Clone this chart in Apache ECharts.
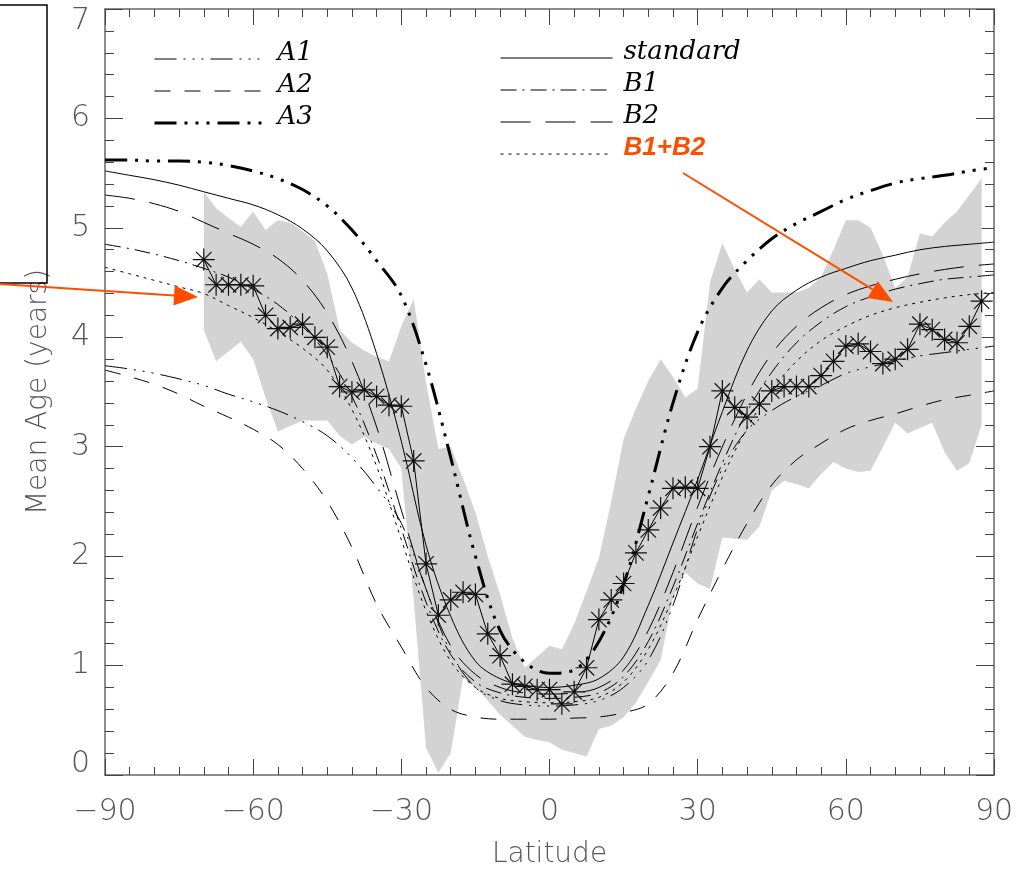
<!DOCTYPE html>
<html>
<head>
<meta charset="utf-8">
<script src="https://cdn.jsdelivr.net/npm/echarts@6/dist/echarts.min.js"></script>
<style>html,body{margin:0;padding:0;background:#fff;}#chart{width:1022px;height:874px;}</style>
</head>
<body>
<div id="chart"></div>
<script>
// ---- model curves (latitude grid) ----
const lat = [-90,-85,-80,-75,-70,-65,-60,-55,-50,-45,-40,-35,-30,-25,-20,-15,-10,-5,0,5,10,15,20,25,30,35,40,45,50,55,60,65,70,75,80,85,90];
const standard = [5.52,5.48,5.44,5.39,5.33,5.27,5.21,5.12,4.99,4.79,4.45,3.85,3.05,2.10,1.45,1.04,0.88,0.82,0.80,0.82,0.88,1.08,1.55,2.12,2.70,3.32,3.88,4.24,4.43,4.55,4.63,4.70,4.75,4.80,4.83,4.85,4.87];
const A3 = [5.62,5.62,5.61,5.61,5.60,5.57,5.52,5.45,5.35,5.20,4.98,4.70,4.38,3.75,2.90,2.00,1.32,1.03,0.93,0.96,1.22,1.74,2.55,3.40,4.05,4.45,4.70,4.90,5.04,5.15,5.26,5.34,5.41,5.45,5.48,5.52,5.55];
const B2 = [5.30,5.27,5.22,5.15,5.05,4.95,4.85,4.72,4.52,4.22,3.78,3.18,2.42,1.70,1.18,0.92,0.80,0.75,0.74,0.75,0.80,0.96,1.32,1.85,2.45,3.00,3.48,3.85,4.10,4.27,4.39,4.47,4.53,4.58,4.62,4.65,4.67];
const B1 = [4.85,4.81,4.76,4.70,4.63,4.55,4.44,4.30,4.10,3.84,3.46,2.92,2.25,1.58,1.10,0.85,0.75,0.71,0.70,0.71,0.75,0.90,1.22,1.72,2.30,2.85,3.32,3.68,3.95,4.14,4.28,4.37,4.44,4.49,4.53,4.55,4.57];
const B1B2 = [4.64,4.58,4.52,4.46,4.40,4.29,4.18,4.05,3.90,3.70,3.34,2.82,2.15,1.50,1.04,0.80,0.70,0.67,0.66,0.67,0.71,0.85,1.15,1.62,2.18,2.72,3.17,3.52,3.78,3.97,4.10,4.20,4.27,4.32,4.36,4.39,4.41];
const A1 = [3.74,3.71,3.67,3.62,3.56,3.48,3.41,3.33,3.23,3.10,2.90,2.63,2.30,1.70,1.12,0.80,0.68,0.64,0.63,0.64,0.68,0.80,1.05,1.55,2.25,2.80,3.15,3.33,3.46,3.56,3.67,3.73,3.78,3.83,3.86,3.89,3.92];
const A2 = [3.70,3.64,3.57,3.48,3.37,3.27,3.16,3.02,2.80,2.50,2.08,1.56,1.17,0.80,0.60,0.53,0.51,0.51,0.51,0.52,0.53,0.57,0.65,0.93,1.42,1.88,2.30,2.65,2.88,3.03,3.16,3.24,3.30,3.37,3.43,3.47,3.51];

// ---- observations (asterisks) and their range (grey band) ----
const obsLat = [-70,-67.5,-65,-62.5,-60,-57.5,-55,-52.5,-50,-47.5,-45,-42.5,-40,-37.5,-35,-32.5,-30,-27.5,-25,-22.5,-20,-17.5,-15,-12.5,-10,-7.5,-5,-2.5,0,2.5,5,7.5,10,12.5,15,17.5,20,22.5,25,27.5,30,32.5,35,37.5,40,42.5,45,47.5,50,52.5,55,57.5,60,62.5,65,67.5,70,72.5,75,77.5,80,82.5,85,87.5];
const obsAge = [4.71,4.48,4.48,4.48,4.47,4.20,4.08,4.09,4.12,4.00,3.91,3.55,3.50,3.52,3.46,3.38,3.37,2.87,1.93,1.46,1.60,1.67,1.65,1.29,1.09,0.83,0.81,0.78,0.78,0.65,0.76,0.98,1.42,1.60,1.75,2.03,2.24,2.44,2.62,2.63,2.62,3.00,3.51,3.36,3.27,3.39,3.51,3.55,3.55,3.55,3.65,3.78,3.92,3.94,3.87,3.76,3.80,3.89,4.12,4.07,3.98,3.95,4.10,4.33];
const bandHigh = [5.33,5.18,5.09,5.01,5.15,4.98,5.07,5.05,4.97,4.88,4.58,4.07,3.95,3.88,3.82,3.78,4.10,4.35,3.59,2.98,3.00,2.71,2.40,2.00,1.65,1.25,0.98,1.08,1.18,1.15,1.38,1.68,1.98,2.50,3.07,3.35,3.60,3.80,3.64,3.45,3.53,4.50,4.86,4.62,4.41,4.53,4.41,4.41,4.41,4.45,4.55,4.80,5.07,5.07,5.00,4.75,4.45,4.55,4.95,4.92,5.05,5.15,5.30,5.45];
const bandLow = [4.07,3.78,3.87,3.96,3.80,3.45,3.14,3.19,3.24,3.24,3.24,3.10,3.02,3.09,3.03,2.98,2.80,1.60,0.25,0.02,0.20,0.89,0.80,0.68,0.55,0.45,0.35,0.32,0.30,0.23,0.20,0.17,0.42,0.45,0.53,0.66,0.85,1.05,1.62,1.85,1.75,1.70,2.17,2.16,2.15,2.27,2.60,2.69,2.66,2.62,2.75,2.86,2.80,2.77,2.78,3.00,3.22,3.12,3.17,3.22,2.95,2.78,2.85,3.20];

// ---- axis ticks ----
const xTicks = [-90,-60,-30,0,30,60,90];
const yTicks = [0,1,2,3,4,5,6,7];

const ORANGE = '#ff4d00';
const AXIS = '#666';
const LABEL_FONT = {fontFamily: 'DejaVu Sans', fontWeight: 200, fontSize: 30, color: '#555'};

function pairs(xs, ys) { return xs.map((x, i) => [x, ys[i]]); }

const chart = echarts.init(document.getElementById('chart'), null, {renderer: 'canvas'});

function modelSeries(name, data, dash, width) {
  return {
    name: name, type: 'line', data: pairs(lat, data), symbol: 'none', smooth: 0.35,
    lineStyle: {color: '#000', width: width, type: dash}, itemStyle: {color: '#000'}, z: 3, silent: true
  };
}

function arrow(x1, y1, x2, y2, head, halfW) {
  const a = Math.atan2(y2 - y1, x2 - x1);
  const bx = x2 - head * Math.cos(a), by = y2 - head * Math.sin(a);
  const px = -Math.sin(a) * halfW, py = Math.cos(a) * halfW;
  return [
    {type: 'line', shape: {x1: x1, y1: y1, x2: bx, y2: by}, style: {stroke: ORANGE, lineWidth: 2}, z: 100},
    {type: 'polygon', shape: {points: [[x2, y2], [bx + px, by + py], [bx - px, by - py]]}, style: {fill: ORANGE}, z: 100}
  ];
}

// grey band: one polygon through the band's upper values, back along the lower values
function renderBand(params, api) {
  if (params.dataIndex !== 0) return null;
  const pts = [];
  for (let i = 0; i < obsLat.length; i++) pts.push(api.coord([obsLat[i], bandHigh[i]]));
  for (let i = obsLat.length - 1; i >= 0; i--) pts.push(api.coord([obsLat[i], bandLow[i]]));
  return {type: 'polygon', shape: {points: pts}, style: {fill: '#d3d3d3', stroke: null}};
}

const legendRich = {
  n: {fontFamily: 'DejaVu Serif', fontStyle: 'italic', fontSize: 26, color: '#000', lineHeight: 20, height: 20, padding: [0, 0, 12, 6]},
  o: {fontFamily: 'Liberation Sans', fontStyle: 'italic', fontWeight: 'bold', fontSize: 26, color: ORANGE, lineHeight: 20, height: 20, padding: [0, 0, 12, 6]}
};
const legendFormatter = name => (name === 'B1+B2' ? '{o|' : '{n|') + name + '}';
const noIcon = {color: 'rgba(0,0,0,0)', borderWidth: 0, opacity: 0};
const legendTextStyle = {fontSize: 20, lineHeight: 20, rich: legendRich};

const option = {
  animation: false,
  backgroundColor: '#fff',
  grid: {left: 105, right: 28, top: 9, bottom: 96, containLabel: false},
  legend: [
    {
      orient: 'vertical', left: 153, top: 40, padding: 0, itemWidth: 112, itemHeight: 20, itemGap: -3,
      selectedMode: false, formatter: legendFormatter, textStyle: legendTextStyle, itemStyle: noIcon,
      data: [{name: 'A1', lineStyle: {width: 1}}, {name: 'A2', lineStyle: {width: 1}}, {name: 'A3', lineStyle: {width: 3}}]
    },
    {
      orient: 'vertical', left: 500, top: 39, padding: 0, itemWidth: 112, itemHeight: 20, itemGap: -3,
      selectedMode: false, formatter: legendFormatter, textStyle: legendTextStyle, itemStyle: noIcon,
      data: [
        {name: 'standard', lineStyle: {width: 1}},
        {name: 'B1', lineStyle: {width: 1}},
        {name: 'B2', lineStyle: {width: 1}},
        {name: 'B1+B2', lineStyle: {width: 1}}
      ]
    }
  ],
  xAxis: [
    {
      type: 'value', min: xTicks[0], max: xTicks[xTicks.length - 1], interval: 30, position: 'bottom',
      name: 'Latitude', nameLocation: 'middle', nameGap: 66,
      nameTextStyle: {fontFamily: 'DejaVu Sans', fontWeight: 200, fontSize: 28, color: '#555'},
      axisLine: {show: true, onZero: false, lineStyle: {color: AXIS, width: 1.5}},
      axisTick: {show: true, inside: true, length: 16, lineStyle: {color: '#444', width: 1}},
      minorTick: {show: true, splitNumber: 6, length: 8, lineStyle: {color: '#444', width: 1}},
      splitLine: {show: false},
      axisLabel: Object.assign({margin: 22, formatter: v => String(v).replace('-', '\u2212')}, LABEL_FONT)
    },
    {
      type: 'value', min: xTicks[0], max: xTicks[xTicks.length - 1], interval: 30, position: 'top',
      axisLine: {show: true, onZero: false, lineStyle: {color: AXIS, width: 1.5}},
      axisTick: {show: true, inside: true, length: 16, lineStyle: {color: '#444', width: 1}},
      minorTick: {show: true, splitNumber: 6, length: 8, lineStyle: {color: '#444', width: 1}},
      splitLine: {show: false}, axisLabel: {show: false}
    }
  ],
  yAxis: [
    {
      type: 'value', min: yTicks[0], max: yTicks[yTicks.length - 1], interval: 1, position: 'left',
      name: 'Mean Age (years)', nameLocation: 'middle', nameGap: 52,
      nameTextStyle: {fontFamily: 'DejaVu Sans', fontWeight: 200, fontSize: 28, color: '#555'},
      axisLine: {show: true, onZero: false, lineStyle: {color: AXIS, width: 1.5}},
      axisTick: {show: true, inside: true, length: 18, lineStyle: {color: '#444', width: 1}},
      minorTick: {show: true, splitNumber: 5, length: 9, lineStyle: {color: '#444', width: 1}},
      splitLine: {show: false},
      axisLabel: Object.assign({
        margin: 15,
        formatter: v => v === yTicks[yTicks.length - 1] ? '{t|' + v + '}' : (v === yTicks[0] ? '{b|' + v + '}' : String(v)),
        rich: {
          t: Object.assign({padding: [24, 0, 0, 0]}, LABEL_FONT),
          b: Object.assign({padding: [0, 0, 22, 0]}, LABEL_FONT)
        }
      }, LABEL_FONT)
    },
    {
      type: 'value', min: yTicks[0], max: yTicks[yTicks.length - 1], interval: 1, position: 'right',
      axisLine: {show: true, onZero: false, lineStyle: {color: AXIS, width: 1.5}},
      axisTick: {show: true, inside: true, length: 18, lineStyle: {color: '#444', width: 1}},
      minorTick: {show: true, splitNumber: 5, length: 9, lineStyle: {color: '#444', width: 1}},
      splitLine: {show: false}, axisLabel: {show: false}
    }
  ],
  series: [
    {
      name: 'range', type: 'custom', renderItem: renderBand,
      data: obsLat.map((x, i) => [x, bandLow[i], bandHigh[i]]),
      encode: {x: 0, y: [1, 2]}, z: 1, silent: true, clip: true
    },
    modelSeries('A1', A1, [22, 7, 2, 7, 2, 7, 2, 7], 1),
    modelSeries('A2', A2, [16, 14], 1),
    modelSeries('A3', A3, [22, 8, 3, 8, 3, 8, 3, 8], 3),
    modelSeries('standard', standard, 'solid', 1),
    modelSeries('B1', B1, [16, 6, 2, 6], 1),
    modelSeries('B2', B2, [30, 15], 1),
    modelSeries('B1+B2', B1B2, [3, 5], 1),
    {
      name: 'observations', type: 'line', data: pairs(obsLat, obsAge),
      symbol: 'path://M5,0L5,10M0,5L10,5M1.5,1.5L8.5,8.5M1.5,8.5L8.5,1.5', symbolSize: 22, showAllSymbol: true,
      lineStyle: {color: '#000', width: 1},
      itemStyle: {color: 'rgba(0,0,0,0)', borderColor: '#111', borderWidth: 1.2},
      z: 5, silent: true
    }
  ],
  graphic: [
    {type: 'rect', shape: {x: -5, y: 5, width: 52, height: 278}, style: {fill: 'none', stroke: '#000', lineWidth: 1.5}, z: 90}
  ].concat(arrow(0, 284, 198, 297, 24, 10), arrow(683, 173, 893, 302, 24, 10))
};

chart.setOption(option);
</script>
</body>
</html>
